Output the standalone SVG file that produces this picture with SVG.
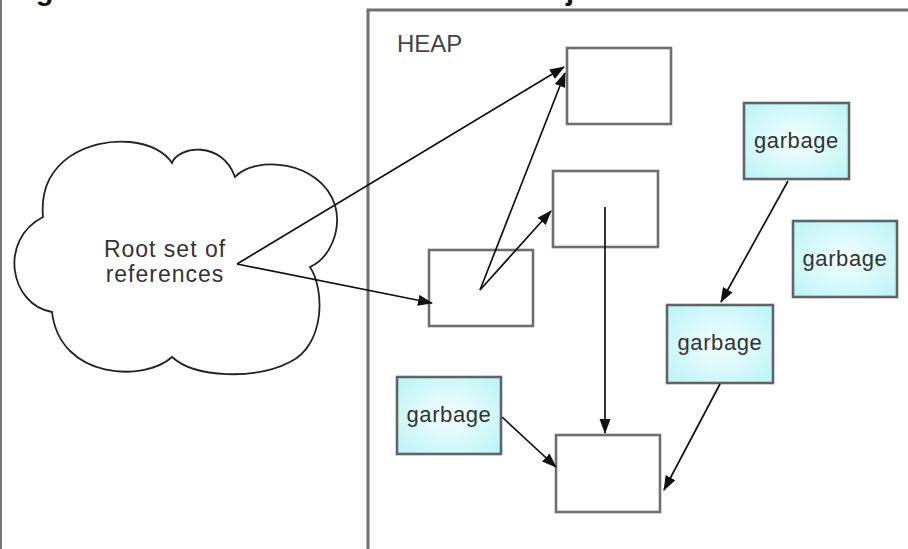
<svg xmlns="http://www.w3.org/2000/svg" width="908" height="549" viewBox="0 0 908 549">
  <defs>
    <radialGradient id="cyanFill" cx="50%" cy="50%" r="65%">
      <stop offset="0" stop-color="#f4ffff"/>
      <stop offset="1" stop-color="#bff4f7"/>
    </radialGradient>
    <marker id="arrow" markerUnits="userSpaceOnUse" markerWidth="15" markerHeight="12" refX="14" refY="5.5" orient="auto">
      <path d="M0,0 L15,5.5 L0,11 Z" fill="#111"/>
    </marker>
    <style>
      .obj { fill: #ffffff; stroke: #6e6e6e; stroke-width: 2.6; }
      .garbage { fill: url(#cyanFill); stroke: #5f6666; stroke-width: 2.6; }
      .label { font-family: "Liberation Sans", Arial, sans-serif; font-size: 22px; letter-spacing: 0.6px; fill: #333; text-anchor: middle; }
      .cloud-label { font-size: 23px; letter-spacing: 1px; }
      .edge { fill: none; stroke: #111; stroke-width: 1.7; marker-end: url(#arrow); }
    </style>
  </defs>

  <rect width="908" height="549" fill="#ffffff"/>

  <!-- page frame and caption -->
  <line x1="1" y1="0" x2="1" y2="549" stroke="#777" stroke-width="2"/>
  <text x="10" y="0" font-family="Liberation Sans, Arial, sans-serif" font-size="29" font-weight="bold" fill="#111">Figure 1. Reachable and unreachable objects</text>

  <!-- heap region -->
  <g id="heap">
    <path d="M368,549 L368,10 L912,10" fill="none" stroke="#6f6f6f" stroke-width="3"/>
    <text x="397" y="52" font-family="Liberation Sans, Arial, sans-serif" font-size="24" fill="#444">HEAP</text>
  </g>

  <!-- root set cloud -->
  <g id="root-set">
    <path d="M43,217 C38,160 90,138 130,142 C150,144 165,152 172,163 C178,146 222,140 235,177 C255,155 320,160 335,205 C342,230 330,258 310,267 C325,290 325,345 290,362 C255,380 195,378 172,357 C145,382 60,380 52,312 C10,305 -2,240 43,217 Z" fill="#ffffff" stroke="#222" stroke-width="1.8"/>
    <text class="label cloud-label" x="165" y="257">Root set of</text>
    <text class="label cloud-label" x="165" y="282">references</text>
  </g>

  <!-- reachable objects -->
  <g id="obj-top"><rect class="obj" x="567" y="48" width="104" height="76"/></g>
  <g id="obj-middle"><rect class="obj" x="553" y="171" width="105" height="76"/></g>
  <g id="obj-left"><rect class="obj" x="429" y="250" width="104" height="76"/></g>
  <g id="obj-bottom"><rect class="obj" x="556" y="435" width="104" height="77"/></g>

  <!-- unreachable objects -->
  <g id="garbage-left">
    <rect class="garbage" x="397" y="377" width="104" height="77"/>
    <text class="label" x="449" y="422">garbage</text>
  </g>
  <g id="garbage-top">
    <rect class="garbage" x="744" y="103" width="105" height="76"/>
    <text class="label" x="796.5" y="148">garbage</text>
  </g>
  <g id="garbage-right">
    <rect class="garbage" x="793" y="221" width="104" height="76"/>
    <text class="label" x="845" y="266">garbage</text>
  </g>
  <g id="garbage-middle">
    <rect class="garbage" x="667" y="305" width="106" height="78"/>
    <text class="label" x="720" y="350">garbage</text>
  </g>

  <!-- references -->
  <g id="connectors">
    <line class="edge" x1="237" y1="264" x2="564" y2="67"/>
    <line class="edge" x1="237" y1="264" x2="432" y2="303"/>
    <line class="edge" x1="480" y1="290" x2="565" y2="73"/>
    <line class="edge" x1="480" y1="290" x2="551" y2="211"/>
    <line class="edge" x1="605" y1="207" x2="605" y2="433"/>
    <line class="edge" x1="502" y1="417" x2="556" y2="467"/>
    <line class="edge" x1="720" y1="384" x2="664" y2="490"/>
    <line class="edge" x1="788" y1="181" x2="721" y2="302"/>
  </g>
</svg>
